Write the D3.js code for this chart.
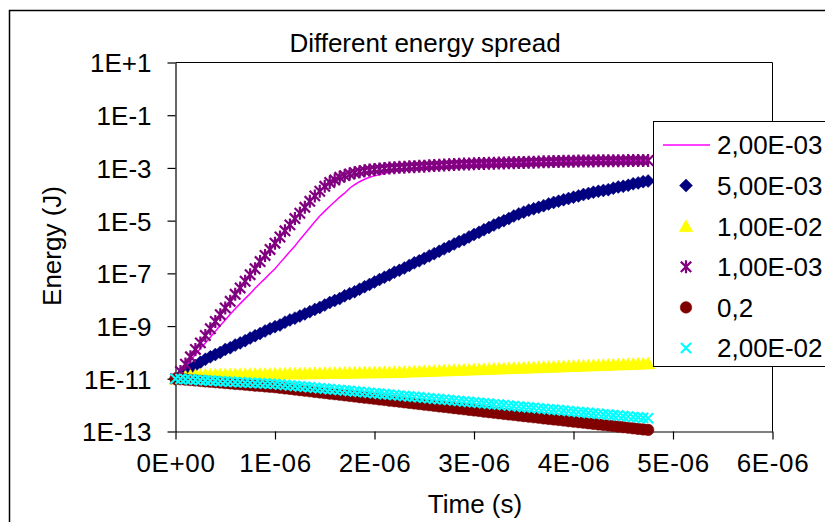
<!DOCTYPE html>
<html><head><meta charset="utf-8">
<script src="https://cdn.jsdelivr.net/npm/d3@7"></script>
<style>
html,body{margin:0;padding:0;background:#fff;}
svg{display:block;font-family:"Liberation Sans",Arial,sans-serif;}
</style></head><body>
<svg id="chart" width="825" height="522"></svg>
<script>
// ---------------- DATA ----------------
const chartTitle = "Different energy spread";
const xAxisTitle = "Time (s)";
const yAxisTitle = "Energy (J)";

// time in microseconds
const timeUs = [
  0,0.05,0.1,0.15,0.2,0.25,0.3,0.35,0.4,0.45,
  0.5,0.55,0.6,0.65,0.7,0.75,0.8,0.85,0.9,0.95,
  1,1.05,1.1,1.15,1.2,1.25,1.3,1.35,1.4,1.45,
  1.5,1.55,1.6,1.65,1.7,1.75,1.8,1.85,1.9,1.95,
  2,2.05,2.1,2.15,2.2,2.25,2.3,2.35,2.4,2.45,
  2.5,2.55,2.6,2.65,2.7,2.75,2.8,2.85,2.9,2.95,
  3,3.05,3.1,3.15,3.2,3.25,3.3,3.35,3.4,3.45,
  3.5,3.55,3.6,3.65,3.7,3.75,3.8,3.85,3.9,3.95,
  4,4.05,4.1,4.15,4.2,4.25,4.3,4.35,4.4,4.45,
  4.5,4.55,4.6,4.65,4.7,4.75
];

const seriesNames = ["2,00E-03","5,00E-03","1,00E-02","1,00E-03","0,2","2,00E-02"];

const energy2e3 = [
  1.0e-11,1.7e-11,2.9e-11,4.9e-11,8.3e-11,1.4e-10,2.3e-10,3.8e-10,6.3e-10,1.05e-9,
  1.7e-9,2.8e-9,4.5e-9,7.1e-9,1.1e-8,1.7e-8,2.7e-8,4.2e-8,6.3e-8,9.8e-8,
  1.5e-7,2.5e-7,4.1e-7,6.8e-7,1.1e-6,1.9e-6,3.2e-6,5.4e-6,9.1e-6,1.5e-5,
  2.3e-5,3.5e-5,5.2e-5,7.8e-5,1.1e-4,1.7e-4,2.3e-4,3.0e-4,3.7e-4,4.4e-4,
  5.0e-4,5.6e-4,6.3e-4,6.9e-4,7.6e-4,8.3e-4,8.9e-4,9.5e-4,1.0e-3,1.05e-3,
  1.10e-3,1.12e-3,1.15e-3,1.17e-3,1.20e-3,1.23e-3,1.26e-3,1.29e-3,1.32e-3,1.35e-3,
  1.38e-3,1.40e-3,1.41e-3,1.43e-3,1.45e-3,1.46e-3,1.48e-3,1.50e-3,1.51e-3,1.53e-3,
  1.55e-3,1.57e-3,1.58e-3,1.60e-3,1.62e-3,1.64e-3,1.66e-3,1.68e-3,1.70e-3,1.72e-3,
  1.74e-3,1.75e-3,1.76e-3,1.77e-3,1.79e-3,1.80e-3,1.81e-3,1.82e-3,1.84e-3,1.85e-3,
  1.86e-3,1.87e-3,1.88e-3,1.89e-3,1.90e-3,1.91e-3
];

const energy5e3 = [
  1.0e-11,1.3e-11,1.8e-11,2.4e-11,3.2e-11,4.2e-11,5.5e-11,6.8e-11,8.3e-11,1.0e-10,
  1.3e-10,1.5e-10,1.9e-10,2.3e-10,2.8e-10,3.5e-10,4.3e-10,5.2e-10,6.5e-10,7.9e-10,
  9.5e-10,1.1e-9,1.4e-9,1.7e-9,2.0e-9,2.4e-9,2.9e-9,3.5e-9,4.3e-9,5.1e-9,
  6.3e-9,7.8e-9,9.3e-9,1.1e-8,1.4e-8,1.7e-8,2.0e-8,2.5e-8,3.1e-8,3.8e-8,
  4.7e-8,5.8e-8,7.1e-8,8.7e-8,1.1e-7,1.3e-7,1.6e-7,2.0e-7,2.5e-7,3.0e-7,
  3.7e-7,4.6e-7,5.6e-7,6.9e-7,8.5e-7,1.05e-6,1.3e-6,1.6e-6,1.9e-6,2.4e-6,
  3.0e-6,3.6e-6,4.5e-6,5.5e-6,6.8e-6,8.3e-6,1.0e-5,1.2e-5,1.5e-5,1.8e-5,
  2.1e-5,2.5e-5,2.8e-5,3.2e-5,3.7e-5,4.3e-5,4.9e-5,5.5e-5,6.2e-5,6.9e-5,
  7.8e-5,8.7e-5,9.8e-5,1.07e-4,1.2e-4,1.3e-4,1.4e-4,1.5e-4,1.7e-4,1.9e-4,
  2.0e-4,2.2e-4,2.5e-4,2.7e-4,3.0e-4,3.2e-4
];

const energy1e2 = [
  1.0e-11,1.12e-11,1.23e-11,1.32e-11,1.38e-11,1.41e-11,1.43e-11,1.44e-11,1.45e-11,1.46e-11,
  1.46e-11,1.47e-11,1.48e-11,1.49e-11,1.50e-11,1.51e-11,1.51e-11,1.52e-11,1.53e-11,1.54e-11,
  1.55e-11,1.56e-11,1.57e-11,1.58e-11,1.58e-11,1.60e-11,1.60e-11,1.61e-11,1.62e-11,1.63e-11,
  1.64e-11,1.65e-11,1.66e-11,1.67e-11,1.68e-11,1.69e-11,1.70e-11,1.71e-11,1.72e-11,1.73e-11,
  1.75e-11,1.76e-11,1.77e-11,1.78e-11,1.79e-11,1.81e-11,1.83e-11,1.86e-11,1.89e-11,1.92e-11,
  1.95e-11,1.98e-11,2.00e-11,2.04e-11,2.07e-11,2.10e-11,2.13e-11,2.16e-11,2.19e-11,2.23e-11,
  2.26e-11,2.30e-11,2.33e-11,2.37e-11,2.40e-11,2.44e-11,2.47e-11,2.51e-11,2.55e-11,2.59e-11,
  2.62e-11,2.67e-11,2.70e-11,2.75e-11,2.79e-11,2.83e-11,2.87e-11,2.92e-11,2.96e-11,3.01e-11,
  3.05e-11,3.10e-11,3.14e-11,3.19e-11,3.24e-11,3.29e-11,3.33e-11,3.39e-11,3.44e-11,3.49e-11,
  3.54e-11,3.60e-11,3.65e-11,3.71e-11,3.76e-11,3.82e-11
];

const energy1e3 = [
  1.0e-11,1.9e-11,3.6e-11,6.8e-11,1.3e-10,2.3e-10,4.4e-10,7.9e-10,1.5e-9,2.7e-9,
  4.9e-9,8.7e-9,1.6e-8,2.8e-8,5.0e-8,8.9e-8,1.5e-7,2.8e-7,4.8e-7,8.1e-7,
  1.4e-6,2.4e-6,4.1e-6,6.9e-6,1.2e-5,1.9e-5,3.2e-5,5.4e-5,8.7e-5,1.3e-4,
  2.0e-4,2.8e-4,3.5e-4,4.4e-4,5.1e-4,5.9e-4,6.6e-4,7.2e-4,7.8e-4,8.3e-4,
  8.7e-4,9.1e-4,9.5e-4,1.0e-3,1.02e-3,1.05e-3,1.07e-3,1.10e-3,1.12e-3,1.15e-3,
  1.17e-3,1.20e-3,1.23e-3,1.26e-3,1.29e-3,1.32e-3,1.35e-3,1.38e-3,1.40e-3,1.41e-3,
  1.45e-3,1.46e-3,1.48e-3,1.50e-3,1.51e-3,1.53e-3,1.55e-3,1.57e-3,1.58e-3,1.60e-3,
  1.62e-3,1.64e-3,1.66e-3,1.68e-3,1.70e-3,1.72e-3,1.74e-3,1.76e-3,1.78e-3,1.79e-3,
  1.80e-3,1.82e-3,1.83e-3,1.84e-3,1.85e-3,1.86e-3,1.87e-3,1.88e-3,1.88e-3,1.89e-3,
  1.89e-3,1.90e-3,1.90e-3,1.91e-3,1.91e-3,1.91e-3
];

const energy02 = [
  1.0e-11,9.6e-12,9.3e-12,8.95e-12,8.6e-12,8.3e-12,8.0e-12,7.7e-12,7.45e-12,7.2e-12,
  6.9e-12,6.7e-12,6.4e-12,6.2e-12,5.97e-12,5.75e-12,5.5e-12,5.35e-12,5.15e-12,4.97e-12,
  4.79e-12,4.55e-12,4.33e-12,4.11e-12,3.91e-12,3.72e-12,3.53e-12,3.36e-12,3.19e-12,3.03e-12,
  2.88e-12,2.74e-12,2.61e-12,2.48e-12,2.36e-12,2.24e-12,2.13e-12,2.02e-12,1.92e-12,1.83e-12,
  1.74e-12,1.65e-12,1.57e-12,1.49e-12,1.42e-12,1.35e-12,1.28e-12,1.22e-12,1.16e-12,1.10e-12,
  1.05e-12,9.95e-13,9.46e-13,9.0e-13,8.55e-13,8.13e-13,7.73e-13,7.35e-13,6.98e-13,6.64e-13,
  6.31e-13,6.0e-13,5.7e-13,5.42e-13,5.15e-13,4.9e-13,4.66e-13,4.44e-13,4.23e-13,4.03e-13,
  3.84e-13,3.66e-13,3.48e-13,3.32e-13,3.16e-13,3.01e-13,2.87e-13,2.74e-13,2.61e-13,2.48e-13,
  2.37e-13,2.25e-13,2.15e-13,2.05e-13,1.95e-13,1.86e-13,1.77e-13,1.69e-13,1.61e-13,1.53e-13,
  1.46e-13,1.39e-13,1.32e-13,1.26e-13,1.20e-13,1.15e-13
];

const energy2e2 = [
  1.0e-11,9.77e-12,9.55e-12,9.33e-12,9.12e-12,8.91e-12,8.71e-12,8.51e-12,8.32e-12,8.13e-12,
  7.94e-12,7.76e-12,7.59e-12,7.41e-12,7.24e-12,7.08e-12,6.92e-12,6.76e-12,6.61e-12,6.46e-12,
  6.31e-12,6.07e-12,5.82e-12,5.6e-12,5.38e-12,5.16e-12,4.97e-12,4.78e-12,4.58e-12,4.41e-12,
  4.24e-12,4.06e-12,3.91e-12,3.76e-12,3.61e-12,3.47e-12,3.33e-12,3.2e-12,3.08e-12,2.96e-12,
  2.84e-12,2.73e-12,2.62e-12,2.52e-12,2.42e-12,2.33e-12,2.23e-12,2.15e-12,2.07e-12,1.98e-12,
  1.91e-12,1.83e-12,1.76e-12,1.69e-12,1.63e-12,1.56e-12,1.5e-12,1.44e-12,1.38e-12,1.33e-12,
  1.28e-12,1.23e-12,1.18e-12,1.14e-12,1.09e-12,1.05e-12,1.01e-12,9.66e-13,9.29e-13,8.93e-13,
  8.57e-13,8.24e-13,7.93e-13,7.6e-13,7.31e-13,7.03e-13,6.75e-13,6.49e-13,6.24e-13,5.98e-13,
  5.75e-13,5.53e-13,5.31e-13,5.1e-13,4.91e-13,4.71e-13,4.53e-13,4.36e-13,4.18e-13,4.02e-13,
  3.86e-13,3.71e-13,3.56e-13,3.43e-13,3.29e-13,3.16e-13
];

const xTickValues = [0,1,2,3,4,5,6];
const xTickLabels = ["0E+00","1E-06","2E-06","3E-06","4E-06","5E-06","6E-06"];
const yTickValues = [1e1,1e-1,1e-3,1e-5,1e-7,1e-9,1e-11,1e-13];
const yTickLabels = ["1E+1","1E-1","1E-3","1E-5","1E-7","1E-9","1E-11","1E-13"];

// ---------------- STYLE ----------------
const symbols = {
  diamond:{draw(c,r){c.moveTo(0,-r);c.lineTo(r,0);c.lineTo(0,r);c.lineTo(-r,0);c.closePath();}},
  triangle:{draw(c,r){c.moveTo(0,-r*0.95);c.lineTo(r,r*0.8);c.lineTo(-r,r*0.8);c.closePath();}},
  circle:{draw(c,r){c.moveTo(r,0);c.arc(0,0,r,0,2*Math.PI);}},
  cross:{draw(c,r){c.moveTo(-r,-r);c.lineTo(r,r);c.moveTo(-r,r);c.lineTo(r,-r);}},
  star:{draw(c,r){c.moveTo(-r,-r);c.lineTo(r,r);c.moveTo(-r,r);c.lineTo(r,-r);c.moveTo(0,-r*1.25);c.lineTo(0,r*1.25);}}
};
const seriesStyle = [
  {kind:"line", color:"#FF00FF"},
  {kind:"marker", sym:"diamond", r:6.5, color:"#000080", filled:true},
  {kind:"marker", sym:"triangle", r:6.8, color:"#FFFF00", filled:true},
  {kind:"marker", sym:"star", r:5.2, color:"#800080", filled:false, sw:2.2},
  {kind:"marker", sym:"circle", r:5.8, color:"#800000", filled:true},
  {kind:"marker", sym:"cross", r:5, color:"#00FFFF", filled:false, sw:2.2}
];
const seriesValues = [energy2e3, energy5e3, energy1e2, energy1e3, energy02, energy2e2];

// ---------------- DRAW ----------------
const svg = d3.select("#chart");
svg.append("rect").attr("x",0).attr("y",0).attr("width",825).attr("height",522).attr("fill","#fff");
// outer chart border
svg.append("rect").attr("x",9.5).attr("y",10.5).attr("width",900).attr("height",600)
  .attr("fill","#fff").attr("stroke","#000").attr("stroke-width",1.5);

const x = d3.scaleLinear().domain([0,6]).range([175.5,772.5]);
const y = d3.scaleLog().domain([1e-13,1e1]).range([431.5,62.5]);

// plot area frame (top & right)
svg.append("path").attr("d",`M${x(0)},${y(1e1)}H${x(6)}V${y(1e-13)}`)
  .attr("fill","none").attr("stroke","#000").attr("stroke-width",1);

const fs = 26;
const xAxis = svg.append("g").attr("transform",`translate(0,${y(1e-13)})`)
  .call(d3.axisBottom(x).tickValues(xTickValues).tickFormat((d,i)=>xTickLabels[i]).tickSize(8).tickSizeOuter(0));
xAxis.selectAll("text").attr("y",40.5).attr("dy",null).attr("font-size",fs).attr("fill","#000")
  .attr("font-family","Liberation Sans, Arial, sans-serif").attr("letter-spacing","0.6");
const yAxis = svg.append("g").attr("transform",`translate(${x(0)},0)`)
  .call(d3.axisLeft(y).tickValues(yTickValues).tickFormat((d,i)=>yTickLabels[i]).tickSize(8).tickSizeOuter(0));
yAxis.selectAll("text").attr("x",-24).attr("dy","0.36em").attr("font-size",fs).attr("fill","#000")
  .attr("font-family","Liberation Sans, Arial, sans-serif");
svg.selectAll(".domain, .tick line").attr("stroke","#000").attr("stroke-width",1.2);

// series
const plot = svg.append("g");
seriesValues.forEach((vals,si)=>{
  const st = seriesStyle[si];
  const pts = vals.map((v,i)=>[timeUs[i], v]);
  if (st.kind === "line") {
    plot.append("path").datum(pts)
      .attr("d", d3.line().x(d=>x(d[0])).y(d=>y(d[1])))
      .attr("fill","none").attr("stroke",st.color).attr("stroke-width",1.5);
  } else {
    const gen = d3.symbol().type(symbols[st.sym]).size(st.r);
    plot.append("g").selectAll("path").data(pts).join("path")
      .attr("transform",d=>`translate(${x(d[0])},${y(d[1])})`)
      .attr("d",gen)
      .attr("fill",st.filled?st.color:"none")
      .attr("stroke",st.color)
      .attr("stroke-width",st.filled?0.5:st.sw);
  }
});

// titles
svg.append("text").attr("x",425).attr("y",52).attr("text-anchor","middle")
  .attr("font-size",fs).text(chartTitle);
svg.append("text").attr("x",475).attr("y",513).attr("text-anchor","middle")
  .attr("font-size",fs).text(xAxisTitle);
svg.append("text").attr("transform","translate(61,246) rotate(-90)").attr("text-anchor","middle")
  .attr("font-size",fs).text(yAxisTitle);

// legend
const lg = svg.append("g");
lg.append("rect").attr("x",653.5).attr("y",121.5).attr("width",300).attr("height",245)
  .attr("fill","#fff").attr("stroke","#000").attr("stroke-width",1);
seriesNames.forEach((name,i)=>{
  const cy = 145 + i*40.6;
  const st = seriesStyle[i];
  if (st.kind === "line") {
    lg.append("line").attr("x1",663).attr("x2",710).attr("y1",cy).attr("y2",cy)
      .attr("stroke",st.color).attr("stroke-width",1.5);
  } else {
    lg.append("path").attr("transform",`translate(686,${cy})`)
      .attr("d", d3.symbol().type(symbols[st.sym]).size(st.r))
      .attr("fill",st.filled?st.color:"none").attr("stroke",st.color)
      .attr("stroke-width",st.filled?0.5:st.sw);
  }
  lg.append("text").attr("x",717).attr("y",cy).attr("dy","0.36em")
    .attr("font-size",fs).text(name);
});
</script>
</body></html>
